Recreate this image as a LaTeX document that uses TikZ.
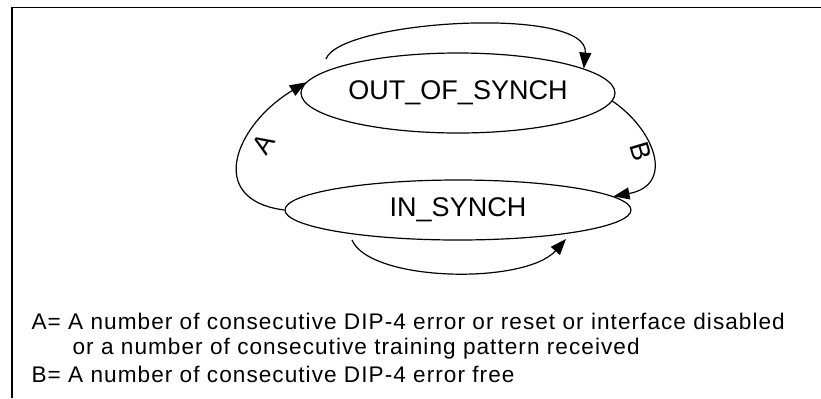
\documentclass[tikz,border=0pt]{standalone}
\usepackage{fontspec}
\setmainfont{Liberation Sans}
\usetikzlibrary {shapes.geometric, arrows.meta}

\begin{document}
\begin{tikzpicture}[x=0.5pt, y=-0.5pt, line width=0.6pt,
	syncstate/.style={draw, ellipse, inner sep=0pt, font=\fontsize{13.5}{15}\selectfont},
	trans/.style={-{Triangle[length=8pt, width=6pt]}},
	translabel/.style={font=\fontsize{13.5}{15}\selectfont},
	legend/.style={anchor=base west, inner sep=0pt, font=\fontsize{11.3}{13}\selectfont\addfontfeature{LetterSpace=4.6}}]
  	\useasboundingbox (0,0) rectangle (821,398);
  	\draw [line width=0.75pt] (12,398) -- (12,7.5) -- (821,7.5);

  	\node [syncstate, minimum width=157pt, minimum height=40pt] (outsync) at (458,93) {OUT\_OF\_SYNCH};
  	\node [syncstate, minimum width=173pt, minimum height=30pt] (insync) at (458,210) {IN\_SYNCH};

  	\coordinate (outloop) at (326,59);
  	\coordinate (inloop) at (352,240);
  	\coordinate (inloopend) at (566,239);

  	\draw [trans] (outloop) .. controls (340,20) and (590,5) .. (outsync.11);
  	\draw [trans] (inloop) .. controls (370,282) and (525,285) .. (inloopend);
  	\draw [trans] (insync.west)
    		.. controls (205,200) and (235,125) .. node[translabel, sloped, below, pos=0.65] {A} (outsync.176);
  	\draw [trans] (outsync.-3)
    		.. controls (655,130) and (675,185) .. node[translabel, sloped, below, pos=0.44, inner sep=0pt] {B} (insync.5);

  	\node [legend] (legA) at (31,329) {A= A number of consecutive DIP-4 error or reset or interface disabled};
  	\node [legend] (legAcont) at (72,354) {or a number of consecutive training pattern received};
  	\node [legend] (legB) at (31,382) {B= A number of consecutive DIP-4 error free};
\end{tikzpicture}
\end{document}
